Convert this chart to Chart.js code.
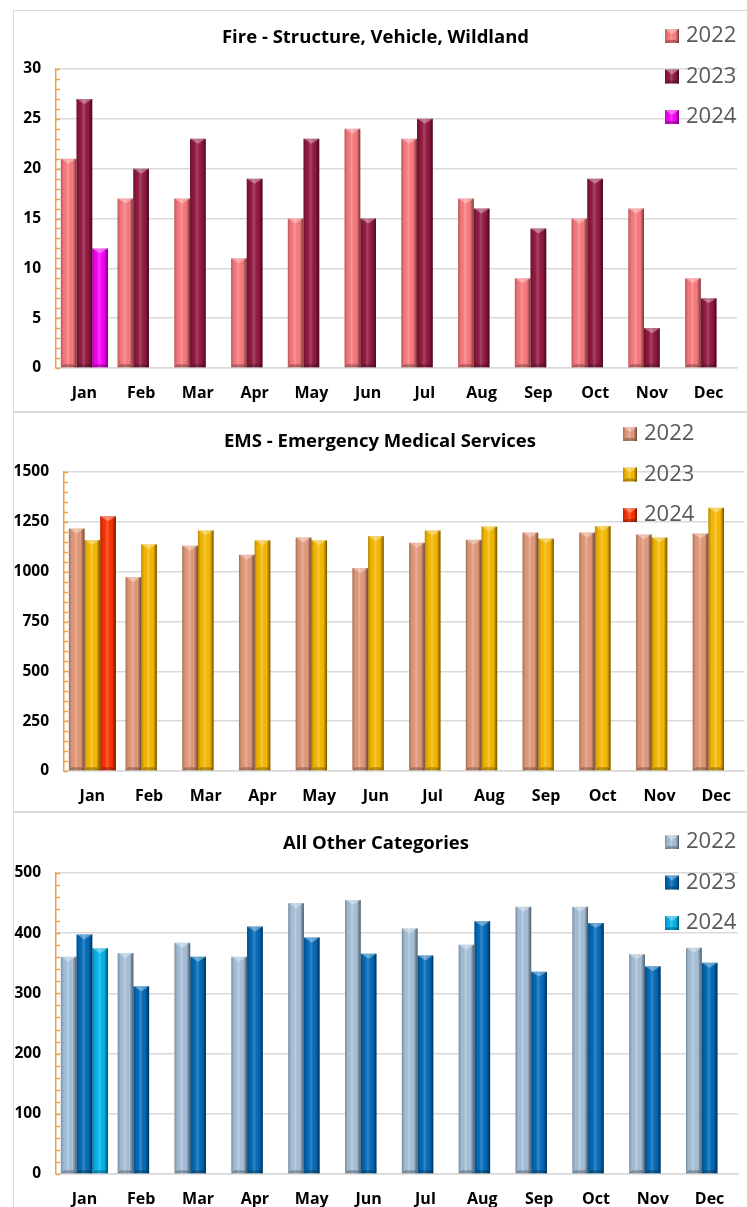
<!DOCTYPE html>
<html>
<head>
<meta charset="utf-8">
<script src="https://cdn.jsdelivr.net/npm/chart.js@4.4.1/dist/chart.umd.min.js"></script>
<style>
  body { margin: 0; background: #fff; }
  #frame { position: absolute; left: 13px; top: 10px; width: 734px; height: 1197px;
           border-left: 1px solid #d9d9d9; border-top: 1px solid #d9d9d9; overflow: hidden; }
  .panel { position: absolute; left: 0; width: 733px; }
  .sep { position: absolute; left: 0; width: 734px; height: 2px; background: #d9d9d9; }
</style>
</head>
<body>
<div id="frame">
  <div class="panel" style="top:0;height:399px"><canvas id="fire" width="733" height="399"></canvas></div>
  <div class="sep" style="top:400px"></div>
  <div class="panel" style="top:402px;height:398px"><canvas id="ems" width="733" height="398"></canvas></div>
  <div class="sep" style="top:800px"></div>
  <div class="panel" style="top:802px;height:394px"><canvas id="other" width="733" height="394"></canvas></div>
</div>
<script>
const months = ["Jan", "Feb", "Mar", "Apr", "May", "Jun", "Jul", "Aug", "Sep", "Oct", "Nov", "Dec"];
const years = ["2022", "2023", "2024"];

const fire2022 = [21, 17, 17, 11, 15, 24, 23, 17, 9, 15, 16, 9];
const fire2023 = [27, 20, 23, 19, 23, 15, 25, 16, 14, 19, 4, 7];
const fire2024 = [12, null, null, null, null, null, null, null, null, null, null, null];

const ems2022 = [1216, 973, 1130, 1085, 1172, 1018, 1145, 1160, 1196, 1196, 1187, 1191];
const ems2023 = [1159, 1137, 1207, 1157, 1157, 1179, 1207, 1226, 1166, 1229, 1172, 1321];
const ems2024 = [1278, null, null, null, null, null, null, null, null, null, null, null];

const other2022 = [361, 367, 384, 361, 450, 455, 408, 381, 444, 444, 365, 376];
const other2023 = [398, 312, 361, 411, 393, 366, 363, 420, 336, 417, 345, 351];
const other2024 = [375, null, null, null, null, null, null, null, null, null, null, null];

const fireTicks = [0, 5, 10, 15, 20, 25, 30];
const emsTicks = [0, 250, 500, 750, 1000, 1250, 1500];
const otherTicks = [0, 100, 200, 300, 400, 500];

const FONT = '"Open Sans", "Noto Sans", sans-serif';
const axisOrange = '#f0a040';
const gridGray = '#d9d9d9';

// fake Excel bevel on a rectangle
function bevel(ctx, l, t, w, h) {
  const r = l + w, b = t + h, cx = l + w / 2;
  const d = Math.min(w * 0.35, 5);
  const g = ctx.createLinearGradient(l, 0, r, 0);
  g.addColorStop(0, 'rgba(0,0,0,0.28)');
  g.addColorStop(0.2, 'rgba(0,0,0,0.04)');
  g.addColorStop(0.45, 'rgba(255,255,255,0.2)');
  g.addColorStop(0.75, 'rgba(0,0,0,0.02)');
  g.addColorStop(1, 'rgba(0,0,0,0.55)');
  ctx.fillStyle = g;
  ctx.fillRect(l, t, w, h);
  ctx.beginPath();
  ctx.moveTo(l, t); ctx.lineTo(r, t); ctx.lineTo(cx, t + d); ctx.closePath();
  ctx.fillStyle = 'rgba(255,255,255,0.35)';
  ctx.fill();
  ctx.beginPath();
  ctx.moveTo(l, b); ctx.lineTo(r, b); ctx.lineTo(r - d * 0.6, b - d * 0.6); ctx.lineTo(l + d * 0.6, b - d * 0.6); ctx.closePath();
  ctx.fillStyle = 'rgba(0,0,0,0.25)';
  ctx.fill();
}

const bevelBars = {
  id: 'bevelBars',
  afterDatasetsDraw(chart) {
    const ctx = chart.ctx;
    ctx.save();
    chart.data.datasets.forEach((ds, i) => {
      chart.getDatasetMeta(i).data.forEach((bar, j) => {
        if (ds.data[j] == null) return;
        const p = bar.getProps(['x', 'y', 'base', 'width'], true);
        const t = Math.min(p.y, p.base), b = Math.max(p.y, p.base);
        bevel(ctx, p.x - p.width / 2, t, p.width, b - t);
      });
    });
    ctx.restore();
  }
};

const sideLegend = {
  id: 'sideLegend',
  afterDraw(chart, args, opts) {
    const ctx = chart.ctx;
    ctx.save();
    chart.data.datasets.forEach((ds, i) => {
      const cy = opts.top + i * opts.gap;
      ctx.fillStyle = ds.backgroundColor;
      ctx.fillRect(opts.left, cy - 7, 14, 14);
      bevel(ctx, opts.left, cy - 7, 14, 14);
      ctx.font = '22px ' + FONT;
      ctx.fillStyle = '#595959';
      ctx.textBaseline = 'middle';
      ctx.textAlign = 'left';
      ctx.fillText(ds.label, opts.left + 21, cy);
    });
    ctx.restore();
  }
};

const minorTicks = {
  id: 'minorTicks',
  afterDraw(chart, args, opts) {
    const s = chart.scales.y, ctx = chart.ctx;
    ctx.save();
    ctx.strokeStyle = axisOrange;
    ctx.lineWidth = 1.5;
    for (let v = s.min; v <= s.max; v += opts.step) {
      const py = Math.round(s.getPixelForValue(v)) + 0.5;
      ctx.beginPath();
      ctx.moveTo(s.right, py);
      ctx.lineTo(s.right + 4, py);
      ctx.stroke();
    }
    ctx.restore();
  }
};

function makeChart(id, cfg) {
  const sets = cfg.series.map((data, i) => ({
    label: years[i],
    data: data,
    backgroundColor: cfg.colors[i],
    borderWidth: 0,
    categoryPercentage: 0.83,
    barPercentage: 1.0
  }));
  return new Chart(document.getElementById(id), {
    type: 'bar',
    data: { labels: months, datasets: sets },
    plugins: [bevelBars, sideLegend, minorTicks],
    options: {
      responsive: false,
      animation: false,
      layout: { padding: { top: 0, right: cfg.padRight, bottom: cfg.padBottom, left: 0 } },
      plugins: {
        legend: { display: false },
        tooltip: { enabled: false },
        title: {
          display: true,
          text: cfg.title,
          color: '#000',
          font: { family: FONT, size: 18.5, weight: 'bold' },
          padding: { top: cfg.titleTop, bottom: cfg.titleBottom }
        },
        sideLegend: { left: cfg.legendLeft, top: cfg.legendTop, gap: 40.5 },
        minorTicks: { step: cfg.minor }
      },
      scales: {
        x: {
          afterFit: (s) => { s.height = 34; },
          grid: { display: false, drawTicks: false },
          border: { color: gridGray, width: 1.5 },
          ticks: { color: '#000', padding: 16, font: { family: FONT, size: 16, weight: 'bold' } }
        },
        y: {
          min: cfg.ticks[0],
          max: cfg.ticks[cfg.ticks.length - 1],
          afterFit: (s) => { s.width = cfg.axisWidth; },
          afterBuildTicks: (s) => { s.ticks = cfg.ticks.map(v => ({ value: v })); },
          grid: { color: gridGray, lineWidth: 1.5, drawTicks: false },
          border: { color: axisOrange, width: 1.5 },
          ticks: {
            color: '#000', padding: 15,
            font: { family: FONT, size: 15.5, weight: 'bold' },
            callback: (v) => String(v)
          }
        }
      }
    }
  });
}

makeChart('fire', {
  title: 'Fire - Structure, Vehicle, Wildland',
  series: [fire2022, fire2023, fire2024],
  colors: ['#ff7c80', '#951840', '#ff00ff'],
  ticks: fireTicks, minor: 1,
  axisWidth: 42, padRight: 10, padBottom: 8,
  titleTop: 15.9, titleBottom: 19.9,
  legendLeft: 651, legendTop: 25
});

makeChart('ems', {
  title: 'EMS - Emergency Medical Services',
  series: [ems2022, ems2023, ems2024],
  colors: ['#e89c7c', '#fcbd00', '#ff3300'],
  ticks: emsTicks, minor: 50,
  axisWidth: 50, padRight: 1, padBottom: 6,
  titleTop: 17.9, titleBottom: 18.9,
  legendLeft: 609, legendTop: 21
});

makeChart('other', {
  title: 'All Other Categories',
  series: [other2022, other2023, other2024],
  colors: ['#a9c5de', '#006cbc', '#00b8f2'],
  ticks: otherTicks, minor: 20,
  axisWidth: 42, padRight: 9, padBottom: -1,
  titleTop: 19.9, titleBottom: 17.9,
  legendLeft: 651, legendTop: 29
});
</script>
</body>
</html>
